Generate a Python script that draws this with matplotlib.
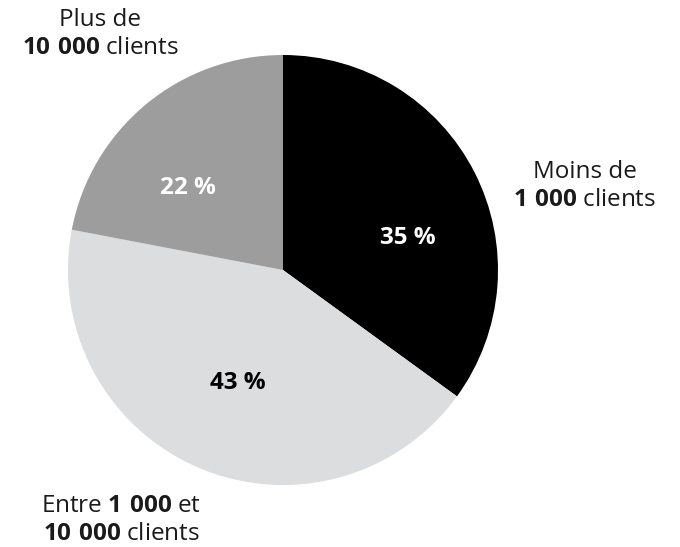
import matplotlib
matplotlib.use("Agg")
import matplotlib.pyplot as plt

# segment data
shares = [35, 43, 22]
pct_labels = ["35 %", "43 %", "22 %"]
colors = ["#000000", "#dcdddf", "#9d9d9e"]
pct_colors = ["white", "black", "white"]
categories = [
    "Moins de\n$\\mathbf{1\\ 000}$ clients",
    "Entre $\\mathbf{1\\ 000}$ et\n$\\mathbf{10\\ 000}$ clients",
    "Plus de\n$\\mathbf{10\\ 000}$ clients",
]

plt.rcParams['font.family'] = ['Open Sans', 'DejaVu Sans']
plt.rcParams['mathtext.fontset'] = 'custom'
plt.rcParams['mathtext.rm'] = 'Open Sans'
plt.rcParams['mathtext.bf'] = 'Open Sans:bold'

W, H = 680, 547
fig = plt.figure(figsize=(W / 100, H / 100), dpi=100)
ax = fig.add_axes([0, 0, 1, 1])

cx, cy, r = 283, H - 270, 215
ax.pie(shares, colors=colors, startangle=90, counterclock=False,
       center=(cx, cy), radius=r, frame=True,
       wedgeprops=dict(linewidth=0))
ax.set_xlim(0, W)
ax.set_ylim(0, H)
ax.set_aspect('equal')
ax.axis('off')

pct_pos = [(408, 238), (238, 383), (188, 188)]
for (x, y), txt, c in zip(pct_pos, pct_labels, pct_colors):
    ax.text(x, H - y, txt, color=c, fontsize=17.5, fontweight='bold',
            ha='center', va='center')

cat_pos = [(585, 186), (121, 520), (100, 34)]
for (x, y), txt in zip(cat_pos, categories):
    ax.text(x, H - y, txt, color='#1a1a1a', fontsize=17.5,
            ha='center', va='center', multialignment='center', linespacing=1.22)

fig.savefig("out.png", dpi=100)
